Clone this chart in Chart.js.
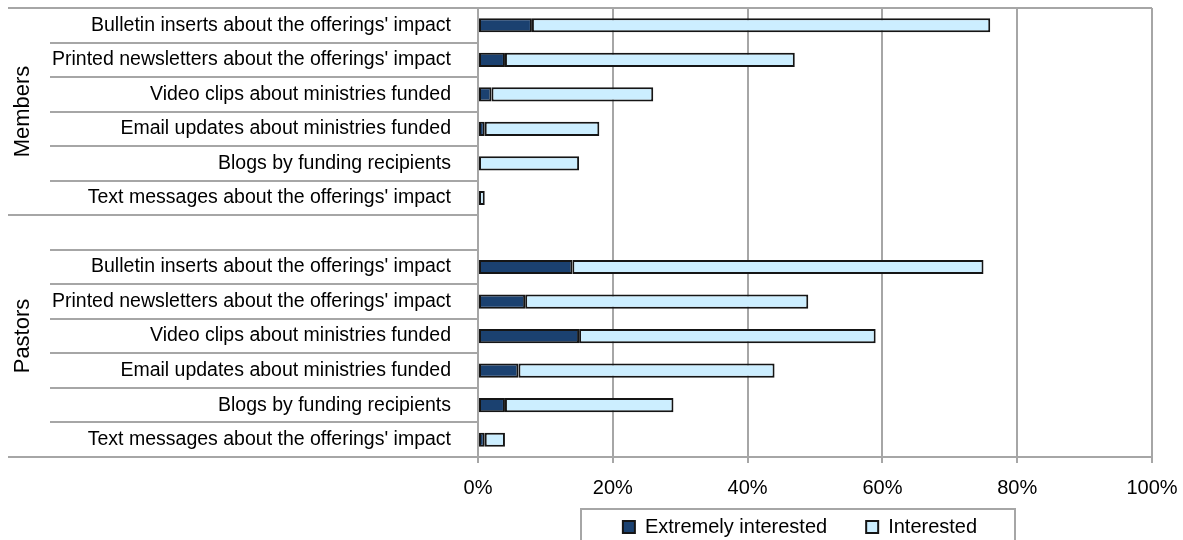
<!DOCTYPE html>
<html>
<head>
<meta charset="utf-8">
<title>Interest in offering communications</title>
<script src="https://cdn.jsdelivr.net/npm/chart.js@4.4.1/dist/chart.umd.min.js"></script>
<style>
  html, body { margin: 0; padding: 0; background: #fff; }
  canvas { display: block; }
</style>
</head>
<body>
<canvas id="chart" width="1183" height="540"></canvas>
<script>
// items asked about, same list for both groups
const items = [
  "Bulletin inserts about the offerings' impact",
  "Printed newsletters about the offerings' impact",
  "Video clips about ministries funded",
  "Email updates about ministries funded",
  "Blogs by funding recipients",
  "Text messages about the offerings' impact"
];
const groups = ['Members', 'Pastors'];

// percentages per item (Interested = part beyond Extremely interested)
const membersExtremely = [8, 4, 2, 1, 0, 0];
const membersInterested = [68, 43, 24, 17, 15, 1];
const pastorsExtremely = [14, 7, 15, 6, 4, 1];
const pastorsInterested = [61, 42, 44, 38, 25, 3];

const xTickValues = [0, 20, 40, 60, 80, 100];

// blank row between the groups belongs to the Pastors block
const labels = items.concat([''], items);
const extremely = membersExtremely.concat([null], pastorsExtremely);
const interested = membersInterested.concat([null], pastorsInterested);
const groupRanges = [[0, 6], [6, 13]];

const gridColor = '#a6a6a6';
const fontFamily = '"Liberation Sans", Arial, sans-serif';
const legendCenterX = 800;
const legendTextY = 527;

Chart.defaults.font.family = fontFamily;
Chart.defaults.font.size = 20;
Chart.defaults.color = '#000';

// category separators, group names and the legend frame
const groupAxis = {
  id: 'groupAxis',
  afterLayout(chart) {
    // legend sits under the plot, a bit left of the plot centre
    const lg = chart.legend;
    const pad = lg.options.labels.padding;
    const shift = legendCenterX - (lg.left + lg.right) / 2;
    lg.left += shift;
    lg.right += shift;
    lg.top = legendTextY - pad - 10;
    lg.height = pad * 2 + 20;
    lg.bottom = lg.top + lg.height;
  },
  afterDraw(chart) {
    const ctx = chart.ctx;
    const y = chart.scales.y;
    const area = chart.chartArea;
    const edge = k => Math.round(y.getPixelForValue(k - 0.5));

    ctx.save();
    ctx.strokeStyle = gridColor;
    ctx.lineWidth = 2;
    for (let k = 0; k <= labels.length; k++) {
      const isGroupEdge = groupRanges.some(r => r[0] === k || r[1] === k);
      const py = edge(k);
      ctx.beginPath();
      ctx.moveTo(isGroupEdge ? 8 : 50, py);
      ctx.lineTo(k === 0 ? area.right : area.left, py);
      ctx.stroke();
    }

    ctx.fillStyle = '#000';
    ctx.font = '22px ' + fontFamily;
    ctx.textAlign = 'center';
    ctx.textBaseline = 'middle';
    groupRanges.forEach((r, i) => {
      const cy = (edge(r[0]) + edge(r[1])) / 2;
      ctx.save();
      ctx.translate(23, cy);
      ctx.rotate(-Math.PI / 2);
      ctx.fillText(groups[i], 0, 0);
      ctx.restore();
    });

    const boxes = chart.legend.legendHitBoxes;
    if (boxes.length) {
      const first = boxes[0];
      const last = boxes[boxes.length - 1];
      const x0 = Math.round(first.left - 42);
      const x1 = Math.round(last.left + last.width + 38);
      const top = Math.round(first.top - 8);
      ctx.beginPath();
      ctx.moveTo(x0, chart.height + 5);
      ctx.lineTo(x0, top);
      ctx.lineTo(x1, top);
      ctx.lineTo(x1, chart.height + 5);
      ctx.stroke();
    }
    ctx.restore();
  }
};

new Chart(document.getElementById('chart'), {
  type: 'bar',
  data: {
    labels: labels,
    datasets: [{
      label: 'Extremely interested',
      data: extremely,
      backgroundColor: '#1b4170',
      borderColor: '#151515',
      borderWidth: 2,
      borderSkipped: false,
      barPercentage: 0.41,
      categoryPercentage: 1
    }, {
      label: 'Interested',
      data: interested,
      backgroundColor: '#cceeff',
      borderColor: '#151515',
      borderWidth: 2,
      borderSkipped: false,
      barPercentage: 0.41,
      categoryPercentage: 1
    }]
  },
  options: {
    indexAxis: 'y',
    responsive: false,
    animation: false,
    events: [],
    layout: {
      padding: { top: 8, left: 0, right: 31, bottom: 0 }
    },
    scales: {
      x: {
        stacked: true,
        min: 0,
        max: 100,
        afterBuildTicks: scale => {
          scale.ticks = xTickValues.map(v => ({ value: v }));
        },
        afterFit: scale => {
          scale.height = 59;
          scale.paddingLeft = 0;
          scale.paddingRight = 0;
        },
        ticks: {
          padding: 13,
          autoSkip: false,
          maxRotation: 0,
          callback: v => v + '%'
        },
        grid: { color: gridColor, lineWidth: 2, tickLength: 6 },
        border: { color: gridColor, width: 2 }
      },
      y: {
        stacked: true,
        afterFit: scale => {
          scale.width = 478;
          scale.paddingTop = 0;
          scale.paddingBottom = 0;
        },
        ticks: { padding: 19, autoSkip: false, font: { size: 19.5 } },
        grid: { display: false },
        border: { display: true, color: gridColor, width: 2 }
      }
    },
    plugins: {
      legend: {
        position: 'bottom',
        maxHeight: 24,
        labels: {
          boxWidth: 12,
          boxHeight: 12,
          padding: 39,
          font: { size: 20 }
        }
      },
      tooltip: { enabled: false }
    }
  },
  plugins: [groupAxis]
});
</script>
</body>
</html>
